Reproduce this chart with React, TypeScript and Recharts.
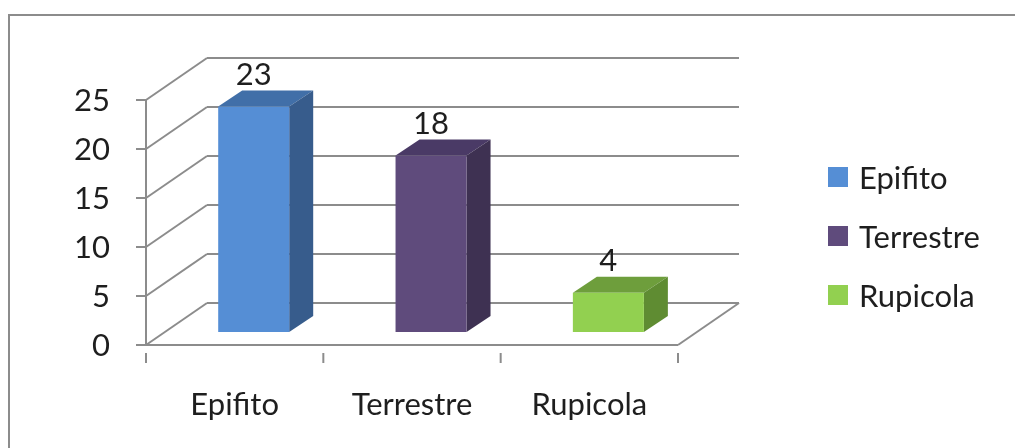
import React from 'react';
import { BarChart, Bar, XAxis, YAxis, CartesianGrid, LabelList } from 'recharts';

// habitat categories and specimen counts
const categories = ['Epifito', 'Terrestre', 'Rupicola'];
const counts = [23, 18, 4];
const yTicks = [0, 5, 10, 15, 20, 25];

// face colours for each prism: front, right side, top
const frontColors = ['#558ED5', '#5F4B7C', '#92D050'];
const sideColors = ['#375C8C', '#3E3152', '#5F8C32'];
const topColors = ['#416FA8', '#4A3A66', '#6E9E3C'];

const rows = categories.map((name, i) => ({ name, value: counts[i] }));

const FONT = 'Lato, "Open Sans", sans-serif';
const FONT_SIZE = 31;
const AXIS = '#8c8c8c';
const TEXT = '#1e1e1e';

const WIDTH = 999;
const HEIGHT = 420;

// 3d offsets: back wall, front face of the prisms, prism depth
const WALL_DX = 61;
const WALL_DY = -42;
const BAR_DX = 19;
const BAR_DY = -13;
const DEPTH_DX = 24;
const DEPTH_DY = -16;

const PLOT_LEFT = 138;
const PLOT_RIGHT = 670;
const PLOT_TOP = 92;
const PLOT_BOTTOM = 337;
const X_AXIS_HEIGHT = 60;
const BAND = (PLOT_RIGHT - PLOT_LEFT) / categories.length;

const Prism = (props: any) => {
  const { x, y, width, height, index } = props;
  const fx = x + BAR_DX;
  const fy = y + BAR_DY;
  const rx = fx + width;
  const by = fy + height;
  return (
    <g>
      <polygon
        points={`${fx},${fy} ${fx + DEPTH_DX},${fy + DEPTH_DY} ${rx + DEPTH_DX},${fy + DEPTH_DY} ${rx},${fy}`}
        fill={topColors[index]}
      />
      <polygon
        points={`${rx},${fy} ${rx + DEPTH_DX},${fy + DEPTH_DY} ${rx + DEPTH_DX},${by + DEPTH_DY} ${rx},${by}`}
        fill={sideColors[index]}
      />
      <rect x={fx} y={fy} width={width} height={height} fill={frontColors[index]} />
    </g>
  );
};

const GridLine = (props: any) => {
  const { x1, y1, x2, y2, y, height, index } = props;
  const isFloor = Math.abs(y1 - (y + height)) < 0.5;
  return (
    <g key={`grid-${index}`} stroke={AXIS} strokeWidth={2} fill="none">
      <line x1={x1 + WALL_DX} y1={y1 + WALL_DY} x2={x2 + WALL_DX} y2={y2 + WALL_DY} />
      <line x1={x1} y1={y1} x2={x1 + WALL_DX} y2={y1 + WALL_DY} />
      {isFloor && <line x1={x2} y1={y2} x2={x2 + WALL_DX} y2={y2 + WALL_DY} />}
    </g>
  );
};

const CategoryTick = (props: any) => {
  const { x, y, payload, index } = props;
  const last = index === categories.length - 1;
  return (
    <g>
      <line x1={x - BAND / 2} y1={y} x2={x - BAND / 2} y2={y + 10} stroke={AXIS} strokeWidth={2} />
      {last && <line x1={x + BAND / 2} y1={y} x2={x + BAND / 2} y2={y + 10} stroke={AXIS} strokeWidth={2} />}
      <text x={x} y={y + 62} textAnchor="middle" fontSize={FONT_SIZE} fontFamily={FONT} fill={TEXT}>
        {payload.value}
      </text>
    </g>
  );
};

const ValueLabel = (props: any) => {
  const { x, y, width, value } = props;
  return (
    <text x={x + width / 2 + BAR_DX} y={y - 35} textAnchor="middle" fontSize={FONT_SIZE} fontFamily={FONT} fill={TEXT}>
      {value}
    </text>
  );
};

export default function App() {
  return (
    <div style={{ position: 'relative', width: WIDTH, height: HEIGHT, fontFamily: FONT }}>
      <style>{'html, body { overflow: hidden; }'}</style>
      {/* frame runs off the right and bottom of the page, so only two edges show */}
      <div
        style={{
          position: 'fixed',
          left: 8,
          top: 14,
          right: -20,
          bottom: -20,
          borderTop: `2px solid ${AXIS}`,
          borderLeft: `2px solid ${AXIS}`,
        }}
      />
      <div style={{ position: 'absolute', left: 0, top: 0 }}>
        <BarChart
          width={WIDTH}
          height={HEIGHT}
          data={rows}
          margin={{
            top: PLOT_TOP,
            right: WIDTH - PLOT_RIGHT,
            bottom: HEIGHT - PLOT_BOTTOM - X_AXIS_HEIGHT,
            left: 0,
          }}
          barCategoryGap="30%"
        >
          <CartesianGrid vertical={false} horizontal={GridLine} />
          <XAxis
            dataKey="name"
            height={X_AXIS_HEIGHT}
            interval={0}
            tickLine={false}
            axisLine={{ stroke: AXIS, strokeWidth: 2 }}
            tick={<CategoryTick />}
          />
          <YAxis
            width={PLOT_LEFT}
            domain={[0, 25]}
            ticks={yTicks}
            interval={0}
            tickSize={10}
            tickMargin={26}
            axisLine={{ stroke: AXIS, strokeWidth: 2 }}
            tickLine={{ stroke: AXIS, strokeWidth: 2 }}
            tick={{ fontSize: FONT_SIZE, fontFamily: FONT, fill: TEXT }}
          />
          <Bar dataKey="value" shape={<Prism />} isAnimationActive={false}>
            <LabelList dataKey="value" content={<ValueLabel />} />
          </Bar>
        </BarChart>
      </div>
      {categories.map((name, i) => (
        <div
          key={name}
          style={{
            position: 'absolute',
            left: 820,
            top: 149 + i * 59,
            display: 'flex',
            alignItems: 'center',
            height: 40,
            fontSize: FONT_SIZE,
            color: TEXT,
          }}
        >
          <span style={{ width: 20, height: 20, background: frontColors[i], marginRight: 11 }} />
          {name}
        </div>
      ))}
    </div>
  );
}
